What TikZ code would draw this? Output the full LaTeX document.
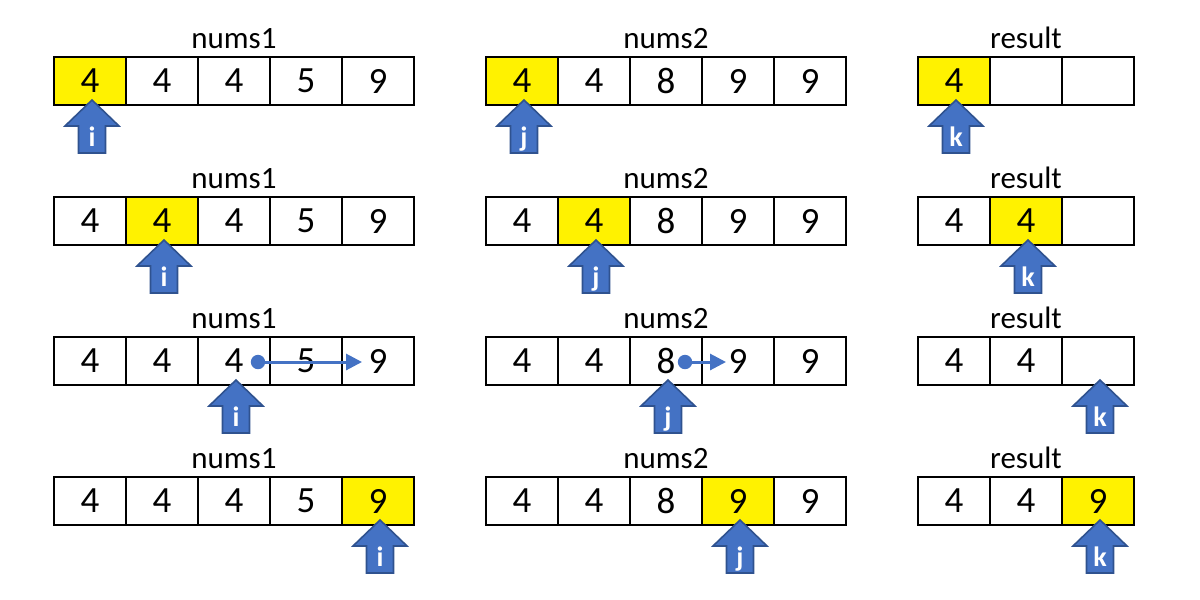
\documentclass[tikz,border=0pt]{standalone}
\usepackage{fontspec}
\setmainfont{Carlito}
\usetikzlibrary{arrows.meta}
\definecolor{ptrblue}{HTML}{4472C4}
\definecolor{ptredge}{HTML}{2F528F}
\begin{document}
\begin{tikzpicture}[x=0.5pt,y=-0.5pt,
  cell/.style={draw=black, line width=0.6pt, minimum width=36pt, minimum height=24pt, inner sep=0pt, font=\fontsize{18.5}{22}\selectfont},
  title/.style={anchor=base, inner sep=0pt, font=\fontsize{15.5}{18}\selectfont},
  ptrtext/.style={anchor=base, inner sep=0pt, text=white, font=\bfseries\fontsize{14}{16}\selectfont},
  ptrshape/.style={draw=ptredge, fill=ptrblue, line width=0.8pt, line join=miter},
  moveline/.style={draw=ptrblue, line width=1.5pt, -{Triangle[length=8pt,width=8pt]}},
  dot/.style={fill=ptrblue},
  ptr/.pic={
    \draw[ptrshape] (0,0) -- (27,26) -- (13.5,26) -- (13.5,53) -- (-13.5,53) -- (-13.5,26) -- (-27,26) -- cycle;
    \node[ptrtext] (-lbl) at (0,46) {#1};
  }]
\useasboundingbox (0,0) rectangle (1200,600);
\foreach \r/\hA/\hB/\hC/\pA/\pB/\pC/\vC/\vCC in {1/1/1/1/1/1/1/{}/{}, 2/2/2/2/2/2/2/4/{}, 3/0/0/0/3/3/3/4/{}, 4/5/4/3/5/4/3/4/9}{
  \pgfmathsetmacro\yc{81+140*(\r-1)}
  % titles
  \node[title] (tA\r) at (234,\yc-33) {nums1};
  \node[title] (tB\r) at (666,\yc-33) {nums2};
  \node[title] (tC\r) at (1026,\yc-33) {result};
  % nums1
  \foreach \v [count=\c] in {4,4,4,5,9}{
    \ifnum\c=\hA\relax\def\cf{yellow}\else\def\cf{white}\fi
    \node[cell,fill=\cf] (A\r-\c) at ({90+72*(\c-1)},\yc) {\v};
  }
  % nums2
  \foreach \v [count=\c] in {4,4,8,9,9}{
    \ifnum\c=\hB\relax\def\cf{yellow}\else\def\cf{white}\fi
    \node[cell,fill=\cf] (B\r-\c) at ({522+72*(\c-1)},\yc) {\v};
  }
  % result
  \foreach \v [count=\c] in {4,\vC,\vCC}{
    \ifnum\c=\hC\relax\def\cf{yellow}\else\def\cf{white}\fi
    \node[cell,fill=\cf] (C\r-\c) at ({954+72*(\c-1)},\yc) {\v};
  }
  % pointers
  \pic (pi\r) at ({92+72*(\pA-1)},{\yc+19}) {ptr=i};
  \pic (pj\r) at ({524+72*(\pB-1)},{\yc+19}) {ptr=j};
  \pic (pk\r) at ({956+72*(\pC-1)},{\yc+19}) {ptr=k};
}
% movement connectors in row 3
\coordinate (d1) at (258,362);
\coordinate (e1) at (362,362);
\coordinate (d2) at (685,362);
\coordinate (e2) at (726,362);
\draw[moveline] (d1) -- (e1);
\draw[moveline] (d2) -- (e2);
\fill[dot] (d1) circle[radius=3.6pt];
\fill[dot] (d2) circle[radius=3.6pt];
\end{tikzpicture}
\end{document}
